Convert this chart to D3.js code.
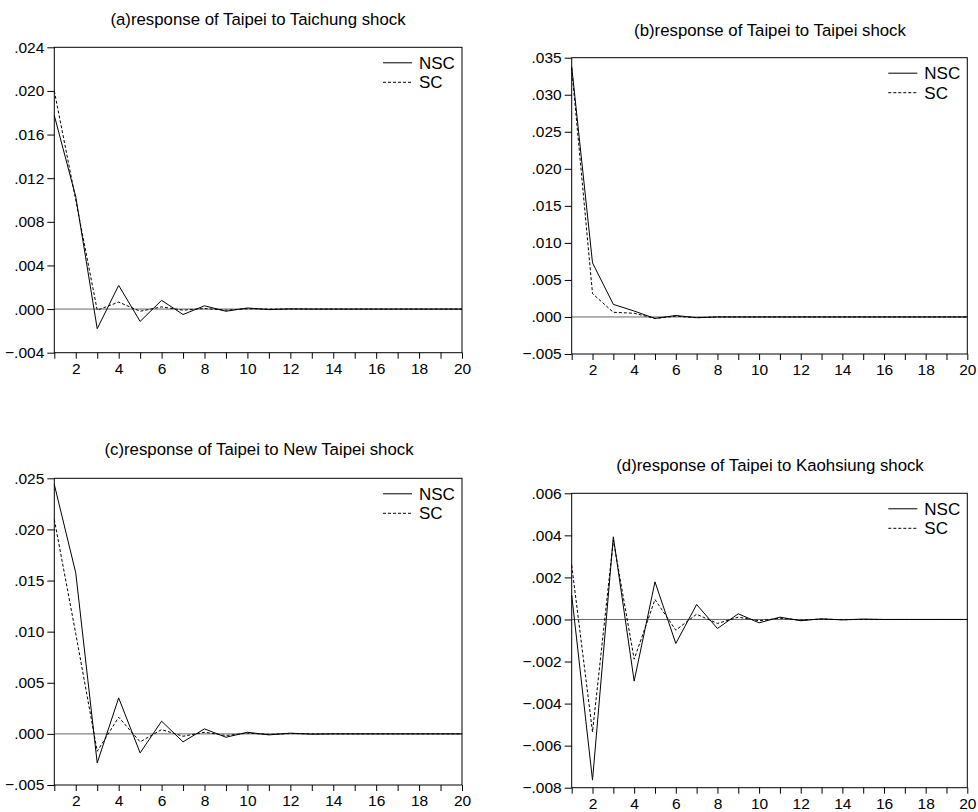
<!DOCTYPE html>
<meta charset="utf-8">
<html>
<head>
<script src="https://d3js.org/d3.v7.min.js"></script>
<style>
    body {
        margin: 0;
        background: #fff;
        font-family: "Liberation Sans", Arial, sans-serif;
    }
</style>
</head>
<body>
<svg id="chart"></svg>
<script>

var width = 978
var height = 812

// horizon 1..20
var periods = d3.range(1, 21)

var titles = [
    "(a)response of Taipei to Taichung shock",
    "(b)response of Taipei to Taipei shock",
    "(c)response of Taipei to New Taipei shock",
    "(d)response of Taipei to Kaohsiung shock"
]

var yTicksA = [-0.004, 0.000, 0.004, 0.008, 0.012, 0.016, 0.020, 0.024]
var yTicksB = [-0.005, 0.000, 0.005, 0.010, 0.015, 0.020, 0.025, 0.030, 0.035]
var yTicksC = [-0.005, 0.000, 0.005, 0.010, 0.015, 0.020, 0.025]
var yTicksD = [-0.008, -0.006, -0.004, -0.002, 0.000, 0.002, 0.004, 0.006]

var xTickLabels = [2, 4, 6, 8, 10, 12, 14, 16, 18, 20]

var nscA = [0.01775, 0.0103, -0.0018, 0.00217, -0.00113, 0.0008, -0.0005, 0.0003, -0.0002, 0.0001,
            -0.00005, 0.00002, 0, 0, 0, 0, 0, 0, 0, 0]
var scA  = [0.0200, 0.0100, -0.0001, 0.00064, -0.0002, 0.0002, -0.0001, 0.00005, -0.0001, 0.00003,
            0, 0, 0, 0, 0, 0, 0, 0, 0, 0]

var nscB = [0.0338, 0.0073, 0.0017, 0.0008, -0.0002, 0.0002, -0.0001, 0, 0, 0,
            0, 0, 0, 0, 0, 0, 0, 0, 0, 0]
var scB  = [0.0336, 0.00315, 0.00063, 0.0005, -0.0002, 0.0001, -0.0001, 0, 0, 0,
            0, 0, 0, 0, 0, 0, 0, 0, 0, 0]

var nscC = [0.0244, 0.01575, -0.00284, 0.00352, -0.00186, 0.00124, -0.00078, 0.00049, -0.00033, 0.00016,
            -0.0001, 0.00007, -0.00003, 0, 0, 0, 0, 0, 0, 0]
var scC  = [0.02097, 0.0098, -0.0017, 0.00163, -0.00078, 0.00042, -0.00023, 0.00016, -0.00016, 0.00007,
            -0.00005, 0.00003, 0, 0, 0, 0, 0, 0, 0, 0]

var nscD = [0.00116, -0.00764, 0.00393, -0.00293, 0.00179, -0.00114, 0.00071, -0.00043, 0.00027, -0.00016,
            0.00011, -0.00006, 0.00003, -0.00002, 0.00002, 0, 0, 0, 0, 0]
var scD  = [0.00258, -0.00535, 0.00377, -0.00189, 0.00095, -0.00051, 0.00025, -0.00019, 0.00011, -0.00006,
            0.00006, -0.00003, 0.00002, -0.00001, 0, 0, 0, 0, 0, 0]

var seriesNames = ["NSC", "SC"]

// panel layout (plot box edges in page pixels)
var panels = [
    {title: titles[0], nsc: nscA, sc: scA, ticks: yTicksA, left: 54.3, right: 462, top: 47.3, bottom: 352.7, titleX: 258, titleY: 24.5},
    {title: titles[1], nsc: nscB, sc: scB, ticks: yTicksB, left: 571.7, right: 967.3, top: 57.7, bottom: 354, titleX: 770, titleY: 36},
    {title: titles[2], nsc: nscC, sc: scC, ticks: yTicksC, left: 54.3, right: 462, top: 478.3, bottom: 785, titleX: 259, titleY: 455},
    {title: titles[3], nsc: nscD, sc: scD, ticks: yTicksD, left: 571.7, right: 967.3, top: 493.3, bottom: 787.7, titleX: 770, titleY: 471}
]

var svg = d3.select("#chart")
    .attr("width", width)
    .attr("height", height)

var fmt = function(d) {
    return d3.format(".3f")(d).replace("0.", ".")
}

panels.forEach(function(p) {
    var x = d3.scaleLinear().domain([1, 20]).range([p.left, p.right])
    var y = d3.scaleLinear()
        .domain([p.ticks[0], p.ticks[p.ticks.length - 1]])
        .range([p.bottom, p.top])

    var g = svg.append("g")

    // title
    g.append("text")
        .attr("x", p.titleX)
        .attr("y", p.titleY)
        .attr("text-anchor", "middle")
        .style("font-size", "16.8px")
        .text(p.title)

    // zero line
    g.append("line")
        .attr("x1", p.left).attr("x2", p.right)
        .attr("y1", y(0)).attr("y2", y(0))
        .attr("stroke", "#666")
        .attr("stroke-width", 1)

    // series
    var line = d3.line()
        .x((d, i) => x(periods[i]))
        .y(d => y(d))

    g.append("path")
        .datum(p.nsc)
        .attr("d", line)
        .attr("fill", "none")
        .attr("stroke", "#000")
        .attr("stroke-width", 1)

    g.append("path")
        .datum(p.sc)
        .attr("d", line)
        .attr("fill", "none")
        .attr("stroke", "#000")
        .attr("stroke-width", 1)
        .attr("stroke-dasharray", "3,2")

    // box
    g.append("rect")
        .attr("x", p.left).attr("y", p.top)
        .attr("width", p.right - p.left)
        .attr("height", p.bottom - p.top)
        .attr("fill", "none")
        .attr("stroke", "#000")
        .attr("stroke-width", 1)

    // y axis
    var yAxis = g.append("g")
        .attr("transform", "translate(" + p.left + ",0)")
        .call(d3.axisLeft(y).tickValues(p.ticks).tickFormat(fmt).tickSize(7).tickPadding(3))
        .attr("font-size", 15.5)
        .attr("font-family", "Liberation Sans, Arial, sans-serif")
    yAxis.select(".domain").remove()

    // x axis: tick at every period, label at even ones
    var xAxis = g.append("g")
        .attr("transform", "translate(0," + p.bottom + ")")
        .call(d3.axisBottom(x).tickValues(periods)
            .tickFormat(d => xTickLabels.indexOf(d) >= 0 ? d : "")
            .tickSize(6).tickPadding(4))
        .attr("font-size", 15.5)
        .attr("font-family", "Liberation Sans, Arial, sans-serif")
    xAxis.select(".domain").remove()

    g.selectAll(".tick text").attr("fill", "#000")

    // legend
    var leg = g.append("g")
    seriesNames.forEach(function(name, i) {
        var ly = p.top + 15.5 + i * 19.5
        leg.append("line")
            .attr("x1", p.right - 79).attr("x2", p.right - 50)
            .attr("y1", ly).attr("y2", ly)
            .attr("stroke", "#000")
            .attr("stroke-dasharray", i === 1 ? "3,2" : null)
        leg.append("text")
            .attr("x", p.right - 43)
            .attr("y", ly)
            .attr("dy", "0.35em")
            .style("font-size", "17px")
            .text(name)
    })
})

</script>
</body>
</html>
